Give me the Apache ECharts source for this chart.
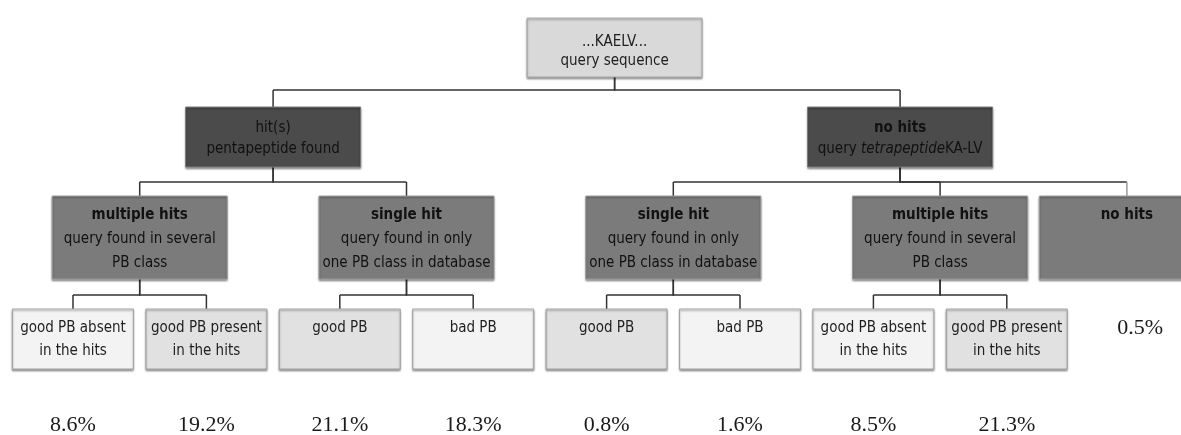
<!DOCTYPE html>
<html><head><meta charset="utf-8">
<script src="https://cdn.jsdelivr.net/npm/echarts@6/dist/echarts.min.js"></script>
<style>html,body{margin:0;padding:0;background:#fff}#c{width:1181px;height:435px}</style>
</head><body><div id="c"></div>
<script>
// ---------------- data ----------------
const rootTitle = '...KAELV...';
const rootSubtitle = 'query sequence';
const level2Titles = ['hit(s)', 'no hits'];
const level2Subtitles = ['pentapeptide found', 'query {i|tetrapeptide}KA-LV'];
const level3Titles = ['multiple hits', 'single hit', 'single hit', 'multiple hits', 'no hits'];
const level3Subtitles = [
  'query found in several\nPB class',
  'query found in only\none PB class in database',
  'query found in only\none PB class in database',
  'query found in several\nPB class',
  ''
];
const level3Parents = [0, 0, 1, 1, 1];
const leafLabels = [
  'good PB absent\nin the hits', 'good PB present\nin the hits', 'good PB', 'bad PB',
  'good PB', 'bad PB', 'good PB absent\nin the hits', 'good PB present\nin the hits'
];
const leafParents = [0, 0, 1, 1, 2, 2, 3, 3];
const leafShares = [8.6, 19.2, 21.1, 18.3, 0.8, 1.6, 8.5, 21.3];
const noHitParent = 4;
const noHitShare = 0.5;

// ---------------- layout / style ----------------
const FF = '"Liberation Sans Narrow","DejaVu Sans Condensed","Open Sans",sans-serif';
const SERIF = '"Liberation Serif","DejaVu Serif",serif';
const rowTop = [18, 107, 196, 309];
const rowHeight = [59, 60, 83, 60];
const busY = [90, 182, 295];
const shareY = 425;
const noHitShareY = 328;
const rootSlot = 4.06;
const noHitSlot = 7.9;
const noHitShareSlot = 8;
const leafTone = ['light', 'mid', 'mid', 'light', 'mid', 'light', 'light', 'mid'];
const level2Bold = [false, true];
const level2Width = [175, 185];

// leaf slots = index; parents centred over their children
const leafSlot = leafLabels.map((_, i) => i);
const level3Slot = level3Titles.map((_, j) => {
  const kids = leafSlot.filter((s, i) => leafParents[i] === j);
  return kids.length ? (Math.min(...kids) + Math.max(...kids)) / 2 : noHitSlot;
});
const level2Slot = level2Titles.map((_, k) => {
  const kids = level3Slot.filter((s, j) => level3Parents[j] === k);
  return (Math.min(...kids) + Math.max(...kids)) / 2;
});

const nodes = [];
nodes.push({slot: rootSlot, level: 0, w: 175, fill: '#d9d9d9', stroke: '#a8a8a8', color: '#1e1e1e',
  title: rootTitle, sub: rootSubtitle, bold: false, first: 24, lh: 19, fs: 15});
level2Titles.forEach((t, k) => nodes.push({slot: level2Slot[k], level: 1, w: level2Width[k], fill: '#4b4b4b',
  stroke: '#7a7a7a', color: '#111', title: t, sub: level2Subtitles[k], bold: level2Bold[k], first: 21, lh: 21, fs: 15}));
level3Titles.forEach((t, j) => nodes.push({slot: level3Slot[j], level: 2, w: 175, fill: '#7b7b7b',
  stroke: '#9a9a9a', color: '#111', title: t, sub: level3Subtitles[j], bold: true, first: 19, lh: 24, fs: 15}));
leafLabels.forEach((t, i) => nodes.push({slot: leafSlot[i], level: 3, w: 121,
  fill: leafTone[i] === 'light' ? '#f3f3f3' : '#e1e1e1', stroke: '#a3a3a3', color: '#1e1e1e',
  title: t, sub: '', bold: false, first: 19, lh: 23, fs: 15}));

const edges = [];
level2Slot.forEach(s => edges.push([rootSlot, s, rowTop[0] + rowHeight[0], busY[0], rowTop[1], 0]));
level3Slot.forEach((s, j) => edges.push([level2Slot[level3Parents[j]], s, rowTop[1] + rowHeight[1], busY[1], rowTop[2], j === noHitParent ? 1 : 0]));
leafSlot.forEach((s, i) => edges.push([level3Slot[leafParents[i]], s, rowTop[2] + rowHeight[2], busY[2], rowTop[3], 0]));

const shareData = leafShares.map((v, i) => [leafSlot[i], shareY, v]);
shareData.push([noHitShareSlot, noHitShareY, noHitShare]);

// ---------------- chart ----------------
const chart = echarts.init(document.getElementById('c'), null, {renderer: 'canvas'});
const LINE = '#333333';

chart.setOption({
  animation: false,
  backgroundColor: '#ffffff',
  grid: {left: 0, right: 0, top: 0, bottom: 0},
  xAxis: {type: 'value', min: -0.5472, max: 8.3058, show: false},
  yAxis: {type: 'value', min: 0, max: 435, inverse: true, show: false},
  series: [
    {
      type: 'custom', coordinateSystem: 'cartesian2d', silent: true, clip: false, z: 1,
      data: edges,
      renderItem: function (params, api) {
        const p0 = api.coord([api.value(0), api.value(2)]);
        const p1 = api.coord([api.value(0), api.value(3)]);
        const p2 = api.coord([api.value(1), api.value(3)]);
        const p3 = api.coord([api.value(1), api.value(4)]);
        const light = api.value(5) === 1;
        return {type: 'group', children: [
          {type: 'polyline', shape: {points: [p0, p1, p2]}, style: {stroke: LINE, lineWidth: 1.5, fill: null}},
          {type: 'line', shape: {x1: p2[0], y1: p2[1], x2: p3[0], y2: p3[1]}, style: {stroke: light ? '#9a9a9a' : LINE, lineWidth: 1.5}}
        ]};
      }
    },
    {
      type: 'custom', coordinateSystem: 'cartesian2d', silent: true, clip: false, z: 2,
      data: nodes.map(n => [n.slot, rowTop[n.level], rowTop[n.level] + rowHeight[n.level]]),
      renderItem: function (params, api) {
        const n = nodes[params.dataIndex];
        const c = api.coord([api.value(0), api.value(1)]);
        const b = api.coord([api.value(0), api.value(2)]);
        const h = b[1] - c[1];
        const ty = c[1] + n.first - n.lh / 2;
        const children = [
          {type: 'rect', shape: {x: c[0] - n.w / 2, y: c[1], width: n.w, height: h},
           style: {fill: n.fill, stroke: n.stroke, lineWidth: 1, shadowBlur: 2, shadowOffsetY: 1.5, shadowColor: 'rgba(0,0,0,0.35)'}},
          {type: 'text', style: {text: n.title, x: c[0], y: ty, align: 'center', verticalAlign: 'top',
            fontFamily: FF, fontSize: n.fs, fontWeight: n.bold ? 'bold' : 'normal', fill: n.color, lineHeight: n.lh}}
        ];
        if (n.sub) {
          children.push({type: 'text', style: {text: n.sub, x: c[0], y: ty + n.lh, align: 'center', verticalAlign: 'top',
            fontFamily: FF, fontSize: n.fs, fill: n.color, lineHeight: n.lh,
            rich: {i: {fontStyle: 'italic', fontFamily: FF, fontSize: n.fs, fill: n.color, lineHeight: n.lh}}}});
        }
        return {type: 'group', children: children};
      }
    },
    {
      type: 'custom', coordinateSystem: 'cartesian2d', silent: true, clip: false, z: 3,
      data: shareData,
      renderItem: function (params, api) {
        const c = api.coord([api.value(0), api.value(1)]);
        return {type: 'text', style: {text: api.value(2).toFixed(1) + '%', x: c[0], y: c[1],
          align: 'center', verticalAlign: 'middle', fontFamily: SERIF, fontSize: 22, fill: '#1a1a1a'}};
      }
    }
  ]
});
</script>
</body></html>
